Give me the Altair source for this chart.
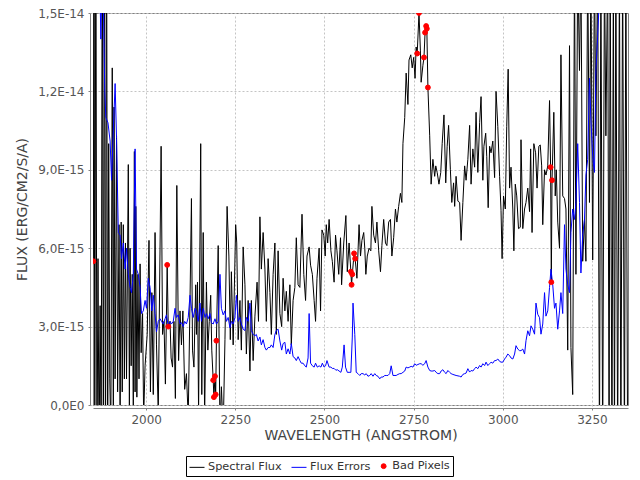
import altair as alt
import pandas as pd

# ---- data (flux values in units of 1e-15 erg/cm2/s/A) ----
FLUX_WAVE = [1852, 1854, 1856, 1859, 1862, 1865, 1868, 1871, 1874, 1877, 1880, 1883, 1886, 1889, 1892, 1895, 1898,
             1901, 1905, 1908, 1910, 1913, 1917, 1920, 1924, 1927, 1930, 1933, 1936, 1939, 1942, 1945, 1950, 1953,
             1955, 1958, 1961, 1964, 1967, 1969, 1971, 1974, 1977, 1980, 1983, 1986, 1990, 1993, 1997, 2003, 2008,
             2012, 2016, 2020, 2025, 2029, 2034, 2042, 2046, 2050, 2054, 2059, 2062, 2067, 2070, 2074, 2078, 2082,
             2086, 2091, 2095, 2099, 2103, 2108, 2113, 2118, 2123, 2127, 2130, 2134, 2139, 2141, 2144, 2147, 2153,
             2156, 2160, 2164, 2169, 2173, 2177, 2181, 2184, 2188, 2190, 2193, 2195, 2197, 2202, 2207, 2211, 2216,
             2221, 2227, 2232, 2236, 2239, 2244, 2251, 2254, 2258, 2263, 2267, 2272, 2277, 2281, 2286, 2291, 2295,
             2300, 2305, 2311, 2315, 2319, 2323, 2328, 2333, 2337, 2342, 2347, 2351, 2356, 2361, 2365, 2370, 2375,
             2380, 2384, 2389, 2393, 2398, 2403, 2407, 2412, 2417, 2421, 2426, 2431, 2437, 2442, 2447, 2451, 2457,
             2461, 2466, 2471, 2475, 2479, 2485, 2489, 2493, 2498, 2502, 2505, 2509, 2513, 2518, 2522, 2527, 2531,
             2535, 2540, 2545, 2548, 2554, 2560, 2564, 2569, 2574, 2576, 2578, 2583, 2586, 2591, 2597, 2601, 2605,
             2610, 2613, 2616, 2620, 2625, 2630, 2633, 2638, 2643, 2647, 2652, 2657, 2661, 2666, 2671, 2675, 2680,
             2685, 2689, 2694, 2699, 2703, 2708, 2713, 2717, 2720, 2725, 2729, 2734, 2737, 2742, 2746, 2750, 2754,
             2757, 2760, 2765, 2769, 2771, 2776, 2779, 2782, 2785, 2787, 2790, 2795, 2799, 2804, 2809, 2812, 2816,
             2821, 2826, 2830, 2835, 2840, 2844, 2848, 2853, 2857, 2862, 2865, 2869, 2874, 2879, 2883, 2888, 2893,
             2897, 2902, 2907, 2911, 2916, 2921, 2925, 2930, 2935, 2939, 2944, 2947, 2952, 2955, 2959, 2963, 2967,
             2972, 2977, 2981, 2986, 2991, 2995, 2998, 3002, 3007, 3011, 3015, 3019, 3023, 3028, 3031, 3035, 3039,
             3044, 3049, 3051, 3056, 3061, 3065, 3070, 3075, 3078, 3082, 3087, 3092, 3096, 3101, 3105, 3109, 3112,
             3117, 3121, 3126, 3131, 3134, 3136, 3138, 3143, 3147, 3150, 3154, 3159, 3163, 3168, 3173, 3177, 3182,
             3187, 3191, 3196, 3201, 3205, 3210, 3215, 3219, 3224, 3229, 3233, 3238, 3243, 3247, 3252, 3257, 3261,
             3266, 3271, 3275, 3280, 3285, 3289, 3294, 3298, 3301, 3306, 3310, 3313, 3317, 3322, 3327, 3331, 3336,
             3341, 3345, 3350]
FLUX = [5.5, 20, -3, 20, -3, 5.6, -2, 3.8, -2, 20, -3, 20, -3, 20, -3, 10, 1,
        -1, 12.9, 0, 11.4, 1, 10.3, 0.5, 6.9, -1, 7.0, 0.5, 6.9, 1, 6.2, 1, 9.2, 0,
        6.0, 1.5, 5.0, 0, 9.7, 0.5, 7.6, 0.3, 5.0, 1.0, 5.4, 2.0, 3.5, -0.5, 1.5, 2.7, 6.3,
        0.5, 4.3, 0.4, 6.6, 2.3, -0.3, 9.9, 2.7, 3.2, 0.8, 5.36, 3.0, 3.2, 1.8, 1.45, 3.2, 0.25,
        8.4, 1.7, 3.6, 2.3, 3.6, 0.6, 1.2, -0.5, 4.0, 7.9, 2.1, 1.45, 4.6, 2.7, 4.7, -0.3, 10.0,
        0.4, 6.6, -0.5, 4.7, 2.1, 3.2, 4.2, 2.1, 0.95, 0.3, 1.1, 0.4, 2.46, 6.1, -1, 0.7, -1,
        2.5, 7.6, 5.7, 2.5, 5.1, 2.3, 6.9, 6.2, 2.5, 4.0, 2.1, 6.05, 4.6, 1.95, 4.0, 1.3, 4.0,
        1.7, 3.4, 4.7, 3.2, 7.2, 5.2, 6.6, 5.2, 3.2, 5.6, 4.3, 2.7, 5.0, 6.2, 2.7, 5.9, 3.5,
        3.0, 4.85, 3.6, 4.35, 3.2, 4.6, 2.3, 4.0, 4.5, 6.4, 4.6, 4.5, 7.3, 5.0, 4.0, 5.7, 6.05,
        5.35, 5.0, 4.0, 3.2, 4.85, 6.0, 3.6, 6.7, 6.5, 5.7, 6.9, 6.2, 7.1, 5.9, 5.5, 4.7, 6.5,
        5.9, 5.0, 6.4, 4.6, 6.2, 7.25, 5.1, 6.2, 5.1, 4.6, 5.0, 5.8, 5.6, 4.85, 6.9, 5.7, 6.3,
        6.6, 6.0, 5.0, 5.7, 6.0, 5.9, 7.6, 6.5, 6.2, 7.0, 5.9, 5.1, 6.1, 7.1, 6.2, 6.1, 7.0,
        7.1, 5.7, 6.4, 7.5, 7.0, 7.6, 8.1, 7.75, 10.0, 11.0, 12.7, 11.5, 13.2, 13.4, 12.9, 13.3, 12.5,
        13.7, 13.45, 15.0, 13.55, 12.35, 13.0, 13.3, 14.25, 14.5, 14.4, 12.15, 10.3, 8.45, 9.4, 8.75, 9.15, 8.9,
        8.45, 8.9, 10.0, 11.1, 8.5, 9.9, 10.7, 9.0, 7.75, 8.5, 7.6, 8.75, 7.8, 7.75, 6.3, 7.75, 9.15,
        8.6, 9.4, 10.7, 8.45, 9.8, 9.1, 11.2, 8.9, 10.8, 11.8, 8.6, 9.9, 10.4, 9.5, 7.55, 9.9, 9.65,
        10.1, 8.7, 12.0, 10.65, 8.75, 7.45, 5.6, 8.0, 7.5, 10.65, 12.85, 8.3, 9.1, 7.5, 5.9, 8.45, 8.0,
        6.75, 6.8, 10.15, 6.75, 7.5, 7.75, 8.3, 7.4, 9.8, 6.6, 10.0, 9.65, 8.3, 9.9, 9.95, 9.15, 6.9,
        9.0, 8.8, 9.15, 11.65, 9.1, 4.7, 8.6, 11.2, 8.0, 9.0, 7.0, 6.0, 13.4, 8.0, 7.9, 7.5, 2.1,
        13.75, 2.2, 0.4, 17, 5.0, 17, 12.8, 17, 5.5, 7.1, 5.5, 17, 7.75, 17, 5.55, 17, 10.3,
        17, -2, 17, -2, 17, 10.3, 17, -2, 17, -2, 17, -2, 17, -2, 17, -2, 17,
        -2, 17, -2]

ERR_WAVE = [1852, 1862, 1868, 1871, 1873, 1876, 1880, 1884, 1887, 1893, 1899, 1903, 1908, 1913, 1917, 1922, 1927,
            1931, 1936, 1941, 1945, 1950, 1955, 1959, 1964, 1969, 1973, 1978, 1983, 1987, 1992, 1997, 2001, 2006,
            2011, 2016, 2020, 2025, 2029, 2034, 2039, 2043, 2048, 2053, 2057, 2062, 2067, 2071, 2076, 2081, 2085,
            2090, 2095, 2099, 2104, 2108, 2113, 2118, 2123, 2127, 2132, 2137, 2141, 2146, 2151, 2155, 2160, 2165,
            2169, 2174, 2179, 2183, 2188, 2193, 2197, 2202, 2207, 2211, 2216, 2221, 2225, 2230, 2235, 2239, 2244,
            2249, 2253, 2258, 2263, 2267, 2272, 2277, 2281, 2286, 2291, 2295, 2300, 2305, 2309, 2314, 2319, 2323,
            2328, 2333, 2337, 2342, 2347, 2351, 2356, 2361, 2365, 2370, 2375, 2380, 2384, 2389, 2393, 2398, 2403,
            2407, 2412, 2417, 2421, 2426, 2431, 2435, 2440, 2445, 2449, 2454, 2457, 2461, 2466, 2471, 2475, 2480,
            2485, 2490, 2494, 2499, 2503, 2507, 2513, 2518, 2522, 2527, 2532, 2536, 2541, 2546, 2550, 2555, 2559,
            2564, 2569, 2574, 2578, 2580, 2585, 2589, 2594, 2599, 2603, 2608, 2613, 2617, 2622, 2627, 2631, 2636,
            2641, 2645, 2650, 2655, 2659, 2664, 2669, 2673, 2678, 2683, 2687, 2692, 2701, 2706, 2711, 2715, 2720,
            2725, 2729, 2734, 2739, 2743, 2748, 2753, 2757, 2762, 2767, 2771, 2776, 2781, 2785, 2790, 2795, 2799,
            2804, 2809, 2813, 2818, 2823, 2827, 2832, 2837, 2841, 2846, 2851, 2855, 2860, 2869, 2879, 2883, 2888,
            2893, 2897, 2902, 2907, 2911, 2916, 2921, 2925, 2930, 2935, 2939, 2944, 2949, 2953, 2958, 2963, 2967,
            2972, 2977, 2981, 2986, 2991, 2995, 3000, 3005, 3009, 3014, 3019, 3023, 3028, 3033, 3037, 3042, 3047,
            3051, 3056, 3061, 3065, 3070, 3075, 3079, 3084, 3089, 3093, 3098, 3103, 3107, 3112, 3117, 3121, 3126,
            3131, 3135, 3140, 3145, 3149, 3154, 3159, 3163, 3168, 3173, 3177, 3182, 3187, 3191, 3196, 3201, 3205,
            3210, 3215, 3219, 3224, 3229, 3233, 3238, 3243, 3247, 3252, 3257, 3261, 3266, 3272, 3285, 3300, 3350]
ERR = [24, 21, 17, 15.5, 14, 16.5, 15.5, 12, 11, 10.8, 10.1, 8.6, 10.5, 12.3, 10.2, 6.6, 6.5,
       5.6, 6.2, 5.2, 6.0, 5.0, 4.5, 4.3, 5.0, 9.8, 5.2, 5.0, 4.5, 3.5, 3.6, 4.0, 3.7, 4.85,
       4.5, 3.6, 4.2, 3.5, 2.8, 3.2, 3.3, 3.2, 3.1, 3.3, 3.45, 3.0, 3.2, 3.1, 3.2, 3.7, 3.35,
       3.45, 3.1, 3.15, 3.0, 3.2, 3.1, 3.35, 4.2, 3.7, 3.35, 3.7, 3.6, 3.2, 3.9, 3.2, 3.7, 3.35,
       3.5, 3.3, 3.5, 3.15, 3.1, 3.3, 3.1, 3.2, 5.0, 3.7, 3.45, 3.6, 3.2, 3.35, 2.95, 3.2, 3.1,
       3.35, 4.2, 3.2, 3.35, 3.1, 2.9, 2.85, 3.35, 3.2, 3.9, 2.85, 2.7, 2.65, 2.7, 2.45, 2.6, 2.3,
       2.5, 2.2, 2.1, 2.2, 2.2, 2.3, 2.2, 2.7, 2.85, 2.9, 2.45, 2.1, 2.35, 2.4, 1.95, 2.15, 1.95,
       2.35, 1.85, 1.8, 1.7, 1.85, 1.7, 1.6, 1.6, 1.5, 1.45, 1.8, 3.5, 1.6, 1.5, 1.45, 1.6, 1.45,
       1.5, 1.45, 1.6, 1.45, 1.5, 1.7, 1.45, 1.45, 1.4, 1.4, 1.33, 1.35, 1.3, 1.25, 1.45, 2.3, 1.45,
       1.25, 1.25, 1.25, 2.6, 3.9, 2.7, 1.25, 1.2, 1.13, 1.2, 1.2, 1.15, 1.2, 1.1, 1.13, 1.2, 1.1,
       1.2, 1.13, 1.1, 1.0, 1.07, 1.07, 1.13, 1.13, 1.13, 1.2, 1.5, 1.13, 1.13, 1.17, 1.2, 1.2, 1.25,
       1.3, 1.45, 1.42, 1.45, 1.48, 1.45, 1.58, 1.52, 1.55, 1.58, 1.58, 1.52, 1.58, 1.7, 1.45, 1.32, 1.3,
       1.3, 1.32, 1.25, 1.2, 1.2, 1.3, 1.35, 1.25, 1.2, 1.32, 1.25, 1.2, 1.17, 1.13, 1.1, 1.07, 1.17,
       1.2, 1.22, 1.39, 1.26, 1.32, 1.3, 1.39, 1.45, 1.39, 1.51, 1.45, 1.58, 1.51, 1.64, 1.51, 1.58, 1.64,
       1.6, 1.7, 1.7, 1.76, 1.67, 1.64, 1.64, 1.76, 1.83, 1.95, 1.89, 1.8, 1.76, 1.95, 2.27, 2.14, 2.08,
       2.08, 2.14, 1.95, 2.46, 2.84, 2.65, 3.03, 2.9, 2.71, 3.9, 3.47, 3.34, 2.71, 3.1, 4.3, 3.4, 3.6,
       4.5, 5.2, 4.6, 3.7, 3.9, 2.9, 3.6, 4.3, 3.5, 6.9, 5.2, 4.6, 4.3, 6.6, 7.5, 7.1, 7.75,
       10.0, 7.75, 5.05, 6.5, 7.1, 8.8, 9.4, 12.5, 10.9, 9.5, 8.9, 12.8, 14.1, 16, 19, 22, 25]

BAD_WAVE = [1852, 2059, 2062, 2188, 2190, 2193, 2195, 2197, 2574, 2576, 2578, 2583, 2586,
            2760, 2765, 2779, 2782, 2785, 2787, 2790, 3134, 3136, 3138]
BAD_FLUX = [5.5, 5.36, 3.0, 0.95, 0.3, 1.1, 0.4, 2.46, 5.1, 4.6, 5.0, 5.8, 5.6,
            13.45, 15.0, 13.3, 14.25, 14.5, 14.4, 12.15, 9.1, 4.7, 8.6]

SERIES = ["Spectral Flux", "Flux Errors", "Bad Pixels"]
COLORS = ["#000000", "#0000ff", "#ff0000"]
SHAPES = ["stroke", "stroke", "circle"]
SIZES = [225, 225, 24]
X_TICKS = [2000, 2250, 2500, 2750, 3000, 3250]
Y_TICKS = [0, 3e-15, 6e-15, 9e-15, 1.2e-14, 1.5e-14]
UNIT = 1e-15

flux_df = pd.DataFrame({"wave": FLUX_WAVE, "flux": [v * UNIT for v in FLUX], "series": SERIES[0]})
err_df = pd.DataFrame({"wave": ERR_WAVE, "flux": [v * UNIT for v in ERR], "series": SERIES[1]})
bad_df = pd.DataFrame({"wave": BAD_WAVE, "flux": [v * UNIT for v in BAD_FLUX], "series": SERIES[2]})

FONT = "DejaVu Sans"
leg = alt.Legend(title=None)
stroke_enc = alt.Stroke("series:N", scale=alt.Scale(domain=SERIES, range=COLORS), legend=leg)
fill_enc = alt.Fill("series:N", scale=alt.Scale(domain=SERIES, range=COLORS), legend=leg)
shape_enc = alt.Shape("series:N", scale=alt.Scale(domain=SERIES, range=SHAPES), legend=leg)
size_enc = alt.Size("series:N", scale=alt.Scale(type="ordinal", domain=SERIES, range=SIZES), legend=leg)

x_enc = alt.X("wave:Q", scale=alt.Scale(domain=[1851, 3351], nice=False, zero=False),
              axis=alt.Axis(values=X_TICKS, title="WAVELENGTH (ANGSTROM)", format="d"))
y_enc = alt.Y("flux:Q", scale=alt.Scale(domain=[0, 1.5e-14], nice=False, zero=False),
              axis=alt.Axis(values=Y_TICKS, title="FLUX (ERG/CM2/S/A)",
                            labelExpr="datum.value == 0 ? '0,0E0' : replace(replace(format(datum.value, '.1e'), '.', ','), 'e', 'E')"))

flux_line = alt.Chart(flux_df).mark_line(strokeWidth=1, clip=True).encode(x=x_enc, y=y_enc, stroke=stroke_enc)
err_line = alt.Chart(err_df).mark_line(strokeWidth=1, clip=True).encode(x=x_enc, y=y_enc, stroke=stroke_enc)
bad_pts = alt.Chart(bad_df).mark_point(filled=True, opacity=1, strokeWidth=1, clip=True).encode(
    x=x_enc, y=y_enc, fill=fill_enc, stroke=stroke_enc, shape=shape_enc, size=size_enc)

chart = alt.layer(flux_line, err_line, bad_pts).properties(
    width=535, height=392,
    autosize=alt.AutoSizeParams(type="none"),
    padding={"left": 85, "top": 5, "right": 4, "bottom": 74},
    background="#ffffff",
).configure_view(
    stroke="#808080", strokeWidth=1
).configure_axis(
    labelFont=FONT, labelFontSize=12, labelColor="#555555",
    titleFont=FONT, titleFontSize=14, titleColor="#444444", titleFontWeight="normal",
    domainColor="#808080", tickColor="#808080", tickSize=2, offset=3,
    gridColor="#c4c4c4", gridDash=[2, 2], gridWidth=1,
    labelPadding=4,
).configure_axisX(
    titlePadding=3
).configure_axisY(
    titlePadding=8
).configure_legend(
    orient="none", legendX=93, legendY=443, direction="horizontal",
    symbolStrokeWidth=1, labelFont=FONT, labelFontSize=11.3, labelColor="#333333",
    labelOffset=3, columnPadding=7, padding=3, strokeColor="#000000", fillColor="#ffffff",
)

chart.save("out.html", embed_options={"renderer": "svg", "actions": False})
